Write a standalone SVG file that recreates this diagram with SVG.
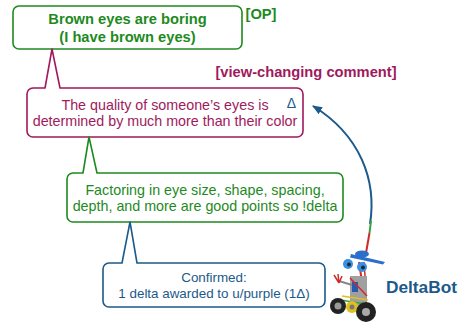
<svg xmlns="http://www.w3.org/2000/svg" width="462" height="325" viewBox="0 0 462 325">
<defs>
<style>
text{font-family:"Liberation Sans",Arial,sans-serif;text-anchor:middle}
.b{font-weight:bold;font-size:14.7px}
.n{font-size:14.3px}
.g{fill:#1e8a1e}
.p{fill:#a0195c}
.u{fill:#1b5a8a}
.box{fill:#fff;stroke-width:1.6;stroke-linejoin:round}
</style>
<marker id="ah" viewBox="0 0 10 8" refX="9" refY="4" markerWidth="10" markerHeight="8" markerUnits="userSpaceOnUse" orient="auto">
<path d="M0,0 L10,4 L0,8 Z" fill="#1b5a8a"/>
</marker>
</defs>
<rect width="462" height="325" fill="#fff"/>

<g id="op">
<rect class="box" x="13" y="6" width="229" height="43" rx="6" stroke="#1e8a1e"/>
<text class="b g" x="127.5" y="24">Brown eyes are boring</text>
<text class="b g" x="127.5" y="41.5">(I have brown eyes)</text>
<text class="b g" x="261" y="19">[OP]</text>
</g>

<g id="comment">
<path class="box" stroke="#a0195c" d="M33,88 H45 L52,49 L60,88 H297 A6 6 0 0 1 303,94 V131 A6 6 0 0 1 297,137 H33 A6 6 0 0 1 27,131 V94 A6 6 0 0 1 33,88 Z"/>
<text class="n p" x="165" y="110">The quality of someone’s eyes is</text>
<text class="n p" x="165" y="125.5">determined by much more than their color</text>
<text class="u" x="291.5" y="108" style="font-size:14px">Δ</text>
<text class="b p" x="306" y="77">[view-changing comment]</text>
</g>

<g id="reply">
<path class="box" stroke="#1e8a1e" d="M73,173 H83 L89,137 L97,173 H337 A6 6 0 0 1 343,179 V216 A6 6 0 0 1 337,222 H73 A6 6 0 0 1 67,216 V179 A6 6 0 0 1 73,173 Z"/>
<text class="n g" x="205" y="195">Factoring in eye size, shape, spacing,</text>
<text class="n g" x="205" y="211">depth, and more are good points so !delta</text>
</g>

<g id="confirm">
<path class="box" stroke="#1b5a8a" d="M109,263 H122 L130,222 L137,263 H319 A6 6 0 0 1 325,269 V301 A6 6 0 0 1 319,307 H109 A6 6 0 0 1 103,301 V269 A6 6 0 0 1 109,263 Z"/>
<text class="u" x="214" y="282" style="font-size:13.4px">Confirmed:</text>
<text class="u" x="214" y="297.5" style="font-size:13.4px">1 delta awarded to u/purple (1Δ)</text>
</g>

<g id="connectors">
<path d="M370,224 C377,180 360,135 313,106" fill="none" stroke="#1b5a8a" stroke-width="2" marker-end="url(#ah)"/>
</g>

<g id="deltabot">
<g id="robot">
<line x1="371" y1="221" x2="369.5" y2="233" stroke="#3aa040" stroke-width="2"/>
<line x1="369.5" y1="233" x2="366" y2="253" stroke="#d02a2a" stroke-width="2"/>
<line x1="359" y1="262" x2="362" y2="282" stroke="#d02a2a" stroke-width="2"/>
<line x1="364" y1="262" x2="366" y2="290" stroke="#d02a2a" stroke-width="1.5"/>
<rect x="350" y="276" width="17" height="30" fill="#a0a0a0"/>
<rect x="352" y="282" width="6" height="10" fill="#2a5ab0"/>
<line x1="350" y1="278" x2="367" y2="296" stroke="#d02a2a" stroke-width="1.5"/>
<line x1="352" y1="285" x2="339" y2="281" stroke="#888" stroke-width="2"/>
<path d="M339,283 L334,275 M339,283 L338,274 M339,283 L342,276" stroke="#d02a2a" stroke-width="1.5" fill="none"/>
<path d="M351,254 L385,262 L383,264.5 L350,257.5 Z" fill="#2a6fc9"/>
<ellipse cx="362" cy="254" rx="7" ry="3.5" fill="#2a6fc9"/>
<circle cx="348" cy="264" r="5" fill="#3a90e0"/>
<circle cx="349" cy="264.5" r="2" fill="#1a2a3a"/>
<circle cx="362" cy="267" r="5" fill="#3a90e0"/>
<circle cx="363" cy="267.5" r="2" fill="#1a2a3a"/>
<line x1="340" y1="300" x2="372" y2="305" stroke="#3aa040" stroke-width="1.5"/>
<line x1="342" y1="296" x2="368" y2="300" stroke="#e0c020" stroke-width="1.5"/>
<circle cx="338" cy="306" r="8" fill="#222"/>
<circle cx="338" cy="306" r="3.5" fill="#999"/>
<circle cx="352" cy="307" r="6" fill="#e0c020"/>
<circle cx="352" cy="307" r="2.5" fill="#777"/>
<circle cx="366" cy="312" r="10" fill="#222"/>
<circle cx="366" cy="312" r="4" fill="#aaa"/>
</g>
<text class="u" x="421.5" y="293" style="font-size:17.3px;font-weight:bold">DeltaBot</text>
</g>
</svg>
